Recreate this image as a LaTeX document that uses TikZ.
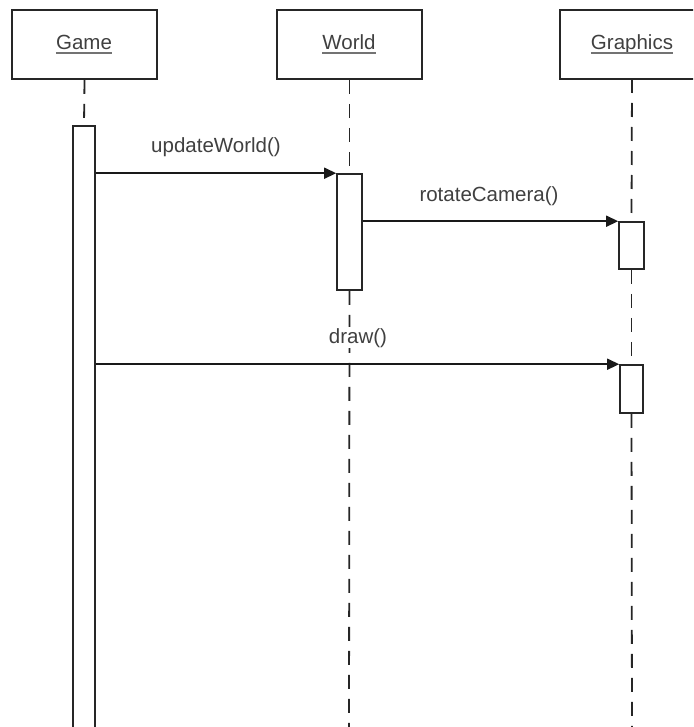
\documentclass[tikz,border=0pt]{standalone}
\usepackage{fontspec}
\setmainfont{Liberation Sans}
\usetikzlibrary{arrows.meta}
\begin{document}
\begin{tikzpicture}[x=1pt,y=-1pt,
  header/.style={draw=black!85, line width=1.8pt, minimum width=145pt, minimum height=69pt, inner sep=0pt},
  hdrtext/.style={anchor=base, inner sep=0pt, text=black!75, font=\fontsize{20.5}{24}\selectfont},
  uline/.style={draw=black!55, line width=1.3pt},
  act/.style={draw=black!85, fill=white, line width=1.6pt, inner sep=0pt},
  lifeline/.style={draw=black!85, line width=1.8pt, dash pattern=on 14pt off 10pt},
  msg/.style={draw=black!90, line width=1.5pt, -{Triangle[length=12pt,width=11pt]}},
  msgtext/.style={anchor=base, inner sep=1pt, fill=white, text=black!75, font=\fontsize{20.5}{24}\selectfont}]
\useasboundingbox (0,0) rectangle (693,727);
\clip (0,0) rectangle (693,727);

% object headers
\node[header] (hgame) at (84.5,44.5) {};
\node[header] (hworld) at (349.5,44.5) {};
\node[header, minimum width=160pt] (hgfx) at (640,44.5) {};
\node[hdrtext] (tgame) at (84,50) {Game};
\node[hdrtext] (tworld) at (349,50) {World};
\node[hdrtext] (tgfx) at (632,50) {Graphics};
\foreach \t in {tgame,tworld,tgfx}
  \draw[uline] ([yshift=-3pt]\t.base west) -- ([yshift=-3pt]\t.base east);

% activation bars
\node[act, minimum width=22pt, minimum height=640pt] (agame) at (84,446) {};
\node[act, minimum width=25pt, minimum height=116pt] (aworld) at (349.5,232) {};
\node[act, minimum width=25pt, minimum height=47pt] (agfxa) at (631.5,245.5) {};
\node[act, minimum width=23pt, minimum height=48pt] (agfxb) at (631.5,389) {};

% lower ends of the lifelines
\coordinate (endworld) at (349,740);
\coordinate (endgfx) at (632,740);
\coordinate (topgfx) at (632,79);

% lifelines
\draw[lifeline] (hgame.south) -- (agame.north);
\draw[lifeline] (hworld.south) -- (aworld.north);
\draw[lifeline] (aworld.south) -- (endworld);
\draw[lifeline] (topgfx) -- (agfxa.north);
\draw[lifeline] (agfxa.south) -- (agfxb.north);
\draw[lifeline] (agfxb.south) -- (endgfx);

% redraw bars over the dashes
\node[act, minimum width=25pt, minimum height=116pt] at (aworld) {};
\node[act, minimum width=25pt, minimum height=47pt] at (agfxa) {};
\node[act, minimum width=23pt, minimum height=48pt] at (agfxb) {};

% messages
\draw[msg] (aworld.north west -| agame.east) -- (aworld.north west);
\draw[msg] (agfxa.north west -| aworld.east) -- (agfxa.north west);
\draw[msg] (agfxb.north west -| agame.east) -- (agfxb.north west);

\node[msgtext] (lupd) at (216,153) {updateWorld()};
\node[msgtext] (lrot) at (489,201) {rotateCamera()};
\node[msgtext] (ldraw) at (358,343) {draw()};
\end{tikzpicture}
\end{document}
